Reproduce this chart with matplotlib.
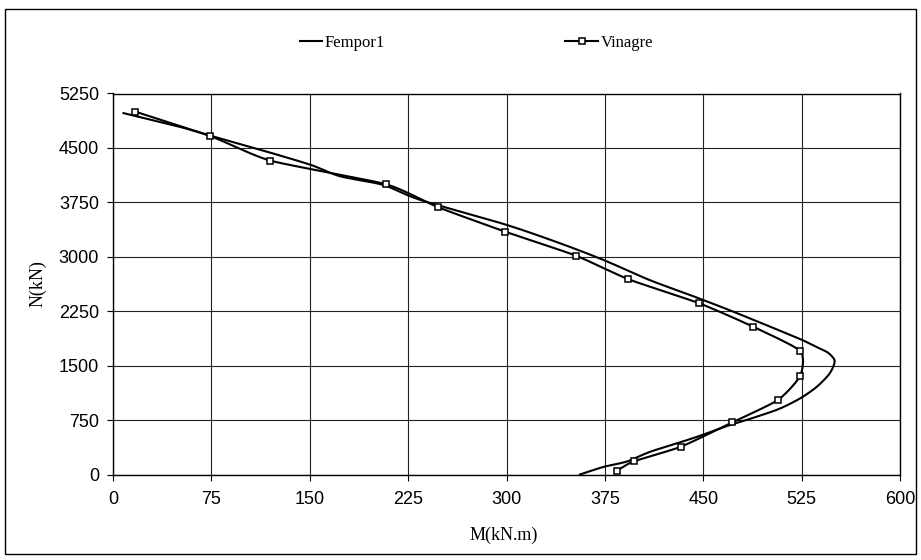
import numpy as np
import matplotlib
matplotlib.use("Agg")
import matplotlib.pyplot as plt
from matplotlib.patches import Rectangle
from matplotlib.lines import Line2D

# ---- data ----
fempor_M = [8, 51, 74, 117, 151, 173, 206, 234, 300, 341, 374, 409, 440, 473,
            522, 536, 545, 550, 549, 545, 536, 524, 508, 488, 470, 447, 430,
            409, 392, 374, 356]
fempor_N = [4980, 4790, 4670, 4450, 4265, 4110, 3990, 3785, 3440, 3185, 2956,
            2680, 2473, 2243, 1880, 1760, 1680, 1580, 1480, 1360, 1200, 1050,
            905, 780, 680, 530, 430, 310, 180, 105, 0]

vinagre_M = [17, 74, 120, 208, 248, 299, 353, 393, 447, 488, 524, 524, 507,
             472, 433, 397, 384]
vinagre_N = [5000, 4665, 4325, 4000, 3682, 3346, 3015, 2690, 2359, 2037, 1701,
             1361, 1027, 717, 383, 182, 48]

x_ticks = [0, 75, 150, 225, 300, 375, 450, 525, 600]
y_ticks = [0, 750, 1500, 2250, 3000, 3750, 4500, 5250]


def smooth(xs, ys, n=12, s=0.6):
    """Cardinal (Hermite) spline through the given points, for drawing only."""
    p = np.column_stack([xs, ys]).astype(float)
    ext = np.vstack([p[0], p, p[-1]])
    m = s * (ext[2:] - ext[:-2]) / 2.0
    out = []
    t = np.linspace(0, 1, n, endpoint=False)[:, None]
    h00 = 2 * t**3 - 3 * t**2 + 1
    h10 = t**3 - 2 * t**2 + t
    h01 = -2 * t**3 + 3 * t**2
    h11 = t**3 - t**2
    for i in range(len(p) - 1):
        out.append(h00 * p[i] + h10 * m[i] + h01 * p[i + 1] + h11 * m[i + 1])
    out.append(p[-1][None, :])
    out = np.vstack(out)
    return out[:, 0], out[:, 1]


W, H = 921, 560
fig = plt.figure(figsize=(W / 100, H / 100), dpi=100)
fig.patch.set_facecolor("white")

left, right, top, bottom = 113, 900, 93.5, 474.5
ax = fig.add_axes([left / W, 1 - bottom / H, (right - left) / W, (bottom - top) / H])

fx, fy = smooth(fempor_M, fempor_N, 8, 0.8)
ax.plot(fx, fy, color="black", lw=1.5, solid_joinstyle="round")
vx, vy = smooth(vinagre_M, vinagre_N, 12, 0.6)
ax.plot(vx, vy, color="black", lw=1.5, solid_joinstyle="round")
ax.plot(vinagre_M, vinagre_N, ls="none", marker="s", ms=4.5, mfc="white",
        mec="black", mew=1.1)

ax.set_xlim(0, 600)
ax.set_ylim(0, 5250)
ax.set_xticks(x_ticks)
ax.set_yticks(y_ticks)
ax.grid(True, color="#222222", lw=0.8)
ax.set_axisbelow(True)
for s in ax.spines.values():
    s.set_color("black")
    s.set_linewidth(1.0)
ax.tick_params(direction="out", length=4, width=0.8, color="black",
               labelsize=13)
ax.tick_params(axis="x", pad=8)
ax.tick_params(axis="y", pad=6)
for lab in ax.get_xticklabels() + ax.get_yticklabels():
    lab.set_fontfamily("Liberation Sans")

ax.set_xlabel("M(kN.m)", family="Liberation Serif", fontsize=13)
ax.set_ylabel("N(kN)", family="Liberation Serif", fontsize=13)
ax.xaxis.set_label_coords((504 - left) / (right - left), -(527 - bottom) / (bottom - top))
ax.yaxis.set_label_coords(-(113 - 47) / (right - left), 0.5)

handles = [Line2D([], [], color="black", lw=1.5),
           Line2D([], [], color="black", lw=1.5, marker="s", ms=4.5,
                  mfc="white", mec="black", mew=1.1)]
leg1 = fig.legend(handles[:1], ["Fempor1"], loc="center left",
                  bbox_to_anchor=(300 / W, 1 - 43 / H), frameon=False,
                  prop={"family": "Liberation Serif", "size": 12},
                  handlelength=1.3, handletextpad=0.15,
                  borderpad=0, borderaxespad=0)
leg2 = fig.legend(handles[1:], ["Vinagre"], loc="center left",
                  bbox_to_anchor=(565 / W, 1 - 43 / H), frameon=False,
                  prop={"family": "Liberation Serif", "size": 12},
                  handlelength=2.0, handletextpad=0.15,
                  borderpad=0, borderaxespad=0)

fig.patches.append(Rectangle((5 / W, 1 - 554 / H), (916 - 5) / W, (554 - 9) / H,
                             transform=fig.transFigure, fill=False,
                             edgecolor="black", lw=1.0))

fig.savefig("out.png", dpi=100)
